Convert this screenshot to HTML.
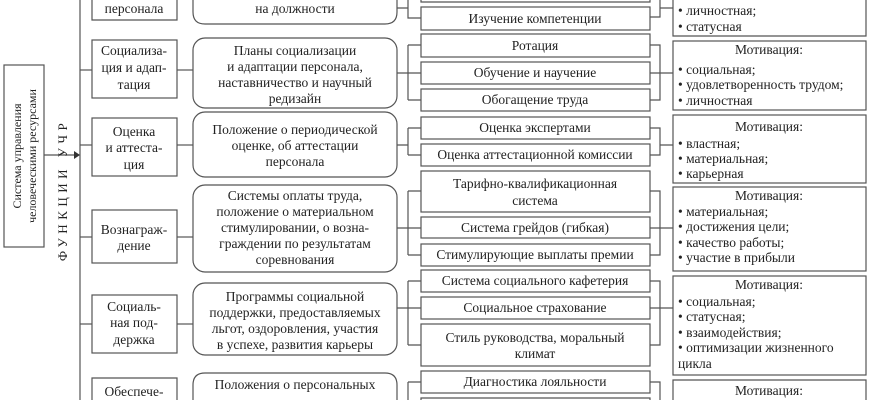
<!DOCTYPE html>
<html><head><meta charset="utf-8"><style>
html,body{margin:0;padding:0;background:#fff;width:870px;height:400px;overflow:hidden;}
svg{display:block;overflow:hidden;}
text{font-family:"Liberation Serif","DejaVu Serif",serif;font-size:13.5px;fill:#222;}
.c{text-anchor:middle;}
</style></head><body>
<svg width="870" height="400" viewBox="0 0 870 400" xmlns="http://www.w3.org/2000/svg">
<g fill="none" stroke="#555" stroke-width="1.2">
<rect x="4" y="65" width="40" height="182"/>
<line x1="44" y1="155" x2="76" y2="155"/>
<line x1="80" y1="0" x2="80" y2="400"/>
<path d="M92 0 V20 H177 V0"/>
<rect x="92" y="40" width="85" height="58"/>
<rect x="92" y="118" width="85" height="58"/>
<rect x="92" y="210" width="85" height="53"/>
<rect x="92" y="295" width="85" height="58"/>
<path d="M92 400 V378 H177 V400"/>
<line x1="80" y1="70" x2="92" y2="70"/>
<line x1="80" y1="145" x2="92" y2="145"/>
<line x1="80" y1="237" x2="92" y2="237"/>
<line x1="80" y1="324" x2="92" y2="324"/>
<line x1="177" y1="70" x2="193" y2="70"/>
<line x1="177" y1="145" x2="193" y2="145"/>
<line x1="177" y1="237" x2="193" y2="237"/>
<line x1="177" y1="324" x2="193" y2="324"/>
<path d="M193 0 V12 Q193 24 205 24 H385 Q397 24 397 12 V0"/>
<rect x="193" y="38" width="204" height="70" rx="12"/>
<rect x="193" y="112" width="204" height="65" rx="12"/>
<rect x="193" y="185" width="204" height="87" rx="12"/>
<rect x="193" y="283" width="204" height="72" rx="12"/>
<path d="M193 400 V385 Q193 373 205 373 H385 Q397 373 397 385 V400"/>
<path d="M421 0 V2 H650 V0"/>
<rect x="421" y="7" width="229" height="23"/>
<rect x="421" y="34" width="229" height="23"/>
<rect x="421" y="62" width="229" height="22"/>
<rect x="421" y="89" width="229" height="22"/>
<rect x="421" y="117" width="229" height="22"/>
<rect x="421" y="144" width="229" height="22"/>
<rect x="421" y="171" width="229" height="41"/>
<rect x="421" y="217" width="229" height="21"/>
<rect x="421" y="244" width="229" height="22"/>
<rect x="421" y="270" width="229" height="22"/>
<rect x="421" y="297" width="229" height="22"/>
<rect x="421" y="324" width="229" height="42"/>
<rect x="421" y="371" width="229" height="22"/>
<path d="M421 400 V398 H650 V400"/>
<path d="M397 8 H408 M408 0 V18 H421"/>
<path d="M397 73 H408 M408 45 V100 M408 45 H421 M408 73 H421 M408 100 H421"/>
<path d="M397 145 H408 M408 128 V155 M408 128 H421 M408 155 H421"/>
<path d="M397 228 H408 M408 191 V255 M408 191 H421 M408 228 H421 M408 255 H421"/>
<path d="M397 308 H408 M408 281 V345 M408 281 H421 M408 308 H421 M408 345 H421"/>
<path d="M408 382 V400 M408 382 H421"/>
<path d="M660 0 V17 H650 M660 8 H673"/>
<path d="M650 45 H660 V100 H650 M650 73 H673"/>
<path d="M650 128 H660 V155 H650 M660 145 H673"/>
<path d="M650 191 H660 V255 H650 M650 228 H673"/>
<path d="M650 281 H660 V345 H650 M650 308 H673"/>
<path d="M650 382 H660 V400"/>
<path d="M673 0 V36 H866 V0"/>
<rect x="673" y="41" width="193" height="69"/>
<rect x="673" y="115" width="193" height="68"/>
<rect x="673" y="187" width="193" height="84"/>
<rect x="673" y="276" width="193" height="99"/>
<path d="M673 400 V380 H866 V400"/>
</g>
<polygon points="74,151 80,155 74,159" fill="#333"/>
<text transform="translate(21,156) rotate(-90)" class="c" style="font-size:12px">Система управления</text>
<text transform="translate(36,156) rotate(-90)" class="c" style="font-size:12px">человеческими ресурсами</text>
<text transform="translate(67,190) rotate(-90)" class="c" style="font-size:13px;letter-spacing:4.5px">ФУНКЦИИ УЧР</text>
<text x="134" y="13" class="c">персонала</text>
<text x="134" y="55" class="c">Социализа-</text>
<text x="134" y="72" class="c">ция и адап-</text>
<text x="134" y="89" class="c">тация</text>
<text x="134" y="136" class="c">Оценка</text>
<text x="134" y="152" class="c">и аттеста-</text>
<text x="134" y="169" class="c">ция</text>
<text x="134" y="234" class="c">Вознаграж-</text>
<text x="134" y="250" class="c">дение</text>
<text x="134" y="311" class="c">Социаль-</text>
<text x="134" y="327" class="c">ная под-</text>
<text x="134" y="344" class="c">держка</text>
<text x="134" y="396" class="c">Обеспече-</text>
<text x="295" y="13" class="c">на должности</text>
<text x="295" y="55" class="c">Планы социализации</text>
<text x="295" y="71" class="c">и адаптации персонала,</text>
<text x="295" y="87" class="c">наставничество и научный</text>
<text x="295" y="103" class="c">редизайн</text>
<text x="295" y="134" class="c">Положение о периодической</text>
<text x="295" y="150" class="c">оценке, об аттестации</text>
<text x="295" y="166" class="c">персонала</text>
<text x="295" y="200" class="c">Системы оплаты труда,</text>
<text x="295" y="216" class="c">положение о материальном</text>
<text x="295" y="232" class="c">стимулировании, о возна-</text>
<text x="295" y="248" class="c">граждении по результатам</text>
<text x="295" y="264" class="c">соревнования</text>
<text x="295" y="301" class="c">Программы социальной</text>
<text x="295" y="317" class="c">поддержки, предоставляемых</text>
<text x="295" y="333" class="c">льгот, оздоровления, участия</text>
<text x="295" y="349" class="c">в успехе, развития карьеры</text>
<text x="295" y="389" class="c">Положения о персональных</text>
<text x="535" y="23" class="c">Изучение компетенции</text>
<text x="535" y="50" class="c">Ротация</text>
<text x="535" y="77" class="c">Обучение и научение</text>
<text x="535" y="104" class="c">Обогащение труда</text>
<text x="535" y="132" class="c">Оценка экспертами</text>
<text x="535" y="159" class="c">Оценка аттестационной комиссии</text>
<text x="535" y="188" class="c">Тарифно-квалификационная</text>
<text x="535" y="205" class="c">система</text>
<text x="535" y="232" class="c">Система грейдов (гибкая)</text>
<text x="535" y="259" class="c">Стимулирующие выплаты премии</text>
<text x="535" y="285" class="c">Система социального кафетерия</text>
<text x="535" y="312" class="c">Социальное страхование</text>
<text x="535" y="342" class="c">Стиль руководства, моральный</text>
<text x="535" y="358" class="c">климат</text>
<text x="535" y="386" class="c">Диагностика лояльности</text>
<text x="678" y="15">• личностная;</text>
<text x="678" y="31">• статусная</text>
<text x="769" y="54" class="c">Мотивация:</text>
<text x="678" y="74">• социальная;</text>
<text x="678" y="89">• удовлетворенность трудом;</text>
<text x="678" y="105">• личностная</text>
<text x="769" y="131" class="c">Мотивация:</text>
<text x="678" y="148">• властная;</text>
<text x="678" y="163">• материальная;</text>
<text x="678" y="178">• карьерная</text>
<text x="769" y="200" class="c">Мотивация:</text>
<text x="678" y="216">• материальная;</text>
<text x="678" y="231">• достижения цели;</text>
<text x="678" y="247">• качество работы;</text>
<text x="678" y="262">• участие в прибыли</text>
<text x="769" y="289" class="c">Мотивация:</text>
<text x="678" y="306">• социальная;</text>
<text x="678" y="321">• статусная;</text>
<text x="678" y="337">• взаимодействия;</text>
<text x="678" y="352">• оптимизации жизненного</text>
<text x="678" y="368">цикла</text>
<text x="769" y="395" class="c">Мотивация:</text>
</svg>
</body></html>
